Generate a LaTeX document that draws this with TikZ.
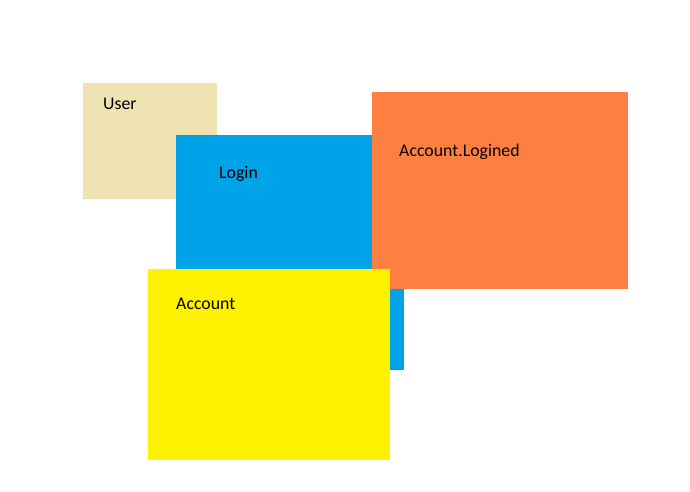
\documentclass[tikz,border=0pt]{standalone}
\usepackage{fontspec}
\setmainfont{Carlito}
\usetikzlibrary{positioning}
\definecolor{usertan}{HTML}{EFE3B1}
\definecolor{loginblue}{HTML}{00A2E8}
\definecolor{loginedorange}{HTML}{FF7F41}
\definecolor{accountyellow}{HTML}{FFF200}
\begin{document}
\begin{tikzpicture}[x=1pt,y=-1pt,
    box/.style={rectangle,inner sep=0pt,anchor=north west},
    tag/.style={inner sep=0pt,anchor=base west,font=\fontsize{17.8}{21}\selectfont}]
		\useasboundingbox (0,0) rectangle (690,491);
		%% boxes, back to front
		\node (user) [box,fill=usertan,minimum width=134pt,minimum height=116pt] at (83,83) {};
		\node (login) [box,fill=loginblue,minimum width=228pt,minimum height=235pt] at (176,135) {};
		\node (logined) [box,fill=loginedorange,minimum width=256pt,minimum height=197pt] at (372,92) {};
		\node (account) [box,fill=accountyellow,minimum width=242pt,minimum height=191pt] at (148,269) {};
		%% texts
		\node (usertext) [tag] at (103,109) {User};
		\node (logintext) [tag] at (219,178) {Login};
		\node (loginedtext) [tag] at (399,156) {Account.Logined};
		\node (accounttext) [tag] at (176,309) {Account};
	\end{tikzpicture}
\end{document}
